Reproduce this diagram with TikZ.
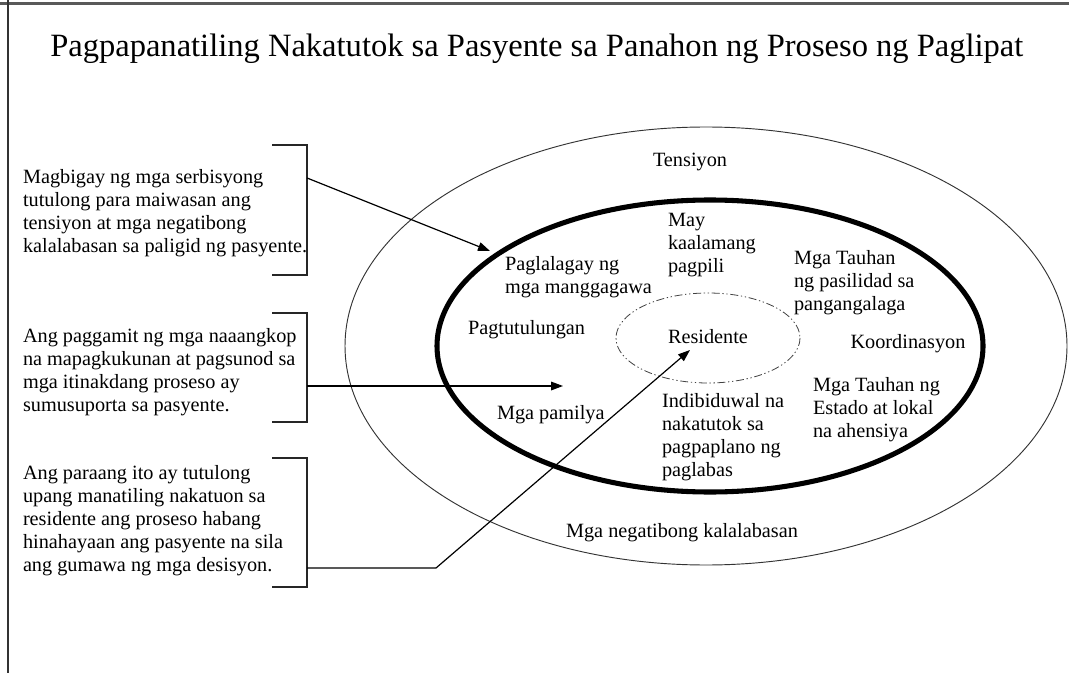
\documentclass[tikz,border=0pt]{standalone}
\usepackage{fontspec}
\setmainfont{Liberation Serif}
\usetikzlibrary{arrows.meta}
\usetikzlibrary{positioning}
\usetikzlibrary{calc}
\tikzset{
lbl/.style = {inner sep=0pt, outer sep=0pt, align=left,
              font=\fontsize{15.2}{17.25}\selectfont},
note/.style = {lbl, anchor=west},
brk/.style = {line width=1pt, black!85},
tip/.style = {-{Triangle[length=9pt,width=6.5pt]}, line width=0.9pt}
}
\newcommand{\bracket}[2]{\draw[brk] (#1) -- ++(35,0) |- (#2);}

\begin{document}
\begin{tikzpicture}[x=0.75pt,y=-0.75pt]
        \useasboundingbox (0,0) rectangle (1069,673);
        % page frame
        \draw[line width=1.6pt, black!65] (0,3.5) -- (1069,3.5);
        \draw[line width=1.1pt, black!80] (8,0) -- (8,673);
        \node[anchor=base west, inner sep=0pt, font=\fontsize{24.4}{28}\selectfont] (title) at (50,57)
          {Pagpapanatiling Nakatutok sa Pasyente sa Panahon ng Proseso ng Paglipat};
        % rings
        \coordinate (mid) at (706,346);
        \draw[line width=0.7pt, black!80] (mid) ellipse [x radius=361, y radius=219];
        \draw[line width=3.8pt] (710,346) ellipse [x radius=273, y radius=146];
        \draw[line width=0.6pt, black!75, dash pattern=on 6pt off 2pt on 1pt off 2pt on 1pt off 2pt]
          (708,338) ellipse [x radius=92, y radius=45];
        % ring labels
        \node[lbl] (tens) at (690,162) {Tensiyon};
        \node[lbl] (neg) at (682,533) {Mga negatibong kalalabasan};
        \node[lbl] (res) at (708,337) {Residente};
        \node[note] (kaal) at (668,245) {May\\kaalamang\\pagpili};
        \node[note] (pasil) at (794,283) {Mga Tauhan\\ng pasilidad sa\\pangangalaga};
        \node[note] (mang) at (505,277) {Paglalagay ng\\mga manggagawa};
        \node[note] (tulong) at (468,330) {Pagtutulungan};
        \node[lbl] (koor) at (908,344) {Koordinasyon};
        \node[note] (pam) at (497,415) {Mga pamilya};
        \node[note] (indiv) at (662,437) {Indibiduwal na\\nakatutok sa\\pagpaplano ng\\paglabas};
        \node[note] (estado) at (813,410) {Mga Tauhan ng\\Estado at lokal\\na ahensiya};
        % side notes
        \node[note] (n1) at (23,213) {Magbigay ng mga serbisyong\\tutulong para maiwasan ang\\tensiyon at mga negatibong\\kalalabasan sa paligid ng pasyente.};
        \node[note] (n2) at (23,372) {Ang paggamit ng mga naaangkop\\na mapagkukunan at pagsunod sa\\mga itinakdang proseso ay\\sumusuporta sa pasyente.};
        \node[note] (n3) at (23,521) {Ang paraang ito ay tutulong\\upang manatiling nakatuon sa\\residente ang proseso habang\\hinahayaan ang pasyente na sila\\ang gumawa ng mga desisyon.};
        \coordinate (b1) at (272,145);
        \coordinate (b1e) at (272,275);
        \coordinate (b2) at (272,313);
        \coordinate (b2e) at (272,422);
        \coordinate (b3) at (272,458);
        \coordinate (b3e) at (272,587);
        \bracket{b1}{b1e}
        \bracket{b2}{b2e}
        \bracket{b3}{b3e}
        % arrows
        \coordinate (a1) at (307,178);
        \coordinate (e1) at (490,251);
        \coordinate (a2) at (307,386);
        \coordinate (e2) at (563,386);
        \coordinate (a3) at (307,568);
        \coordinate (k3) at (436,568);
        \coordinate (e3) at (690,350);
        \draw[tip] (a1) -- (e1);
        \draw[tip] (a2) -- (e2);
        \draw[tip] (a3) -- (k3) -- (e3);
\end{tikzpicture}
\end{document}
